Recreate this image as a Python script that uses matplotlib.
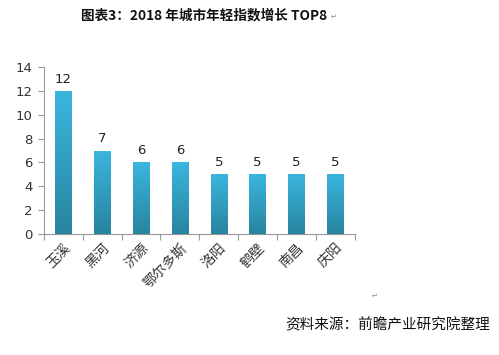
import numpy as np
import matplotlib.pyplot as plt
from matplotlib.colors import LinearSegmentedColormap

plt.rcParams['font.family'] = ['Noto Sans CJK SC', 'DejaVu Sans']

cities = ['玉溪', '黑河', '济源', '鄂尔多斯', '洛阳', '鹤壁', '南昌', '庆阳']
growth = [12, 7, 6, 6, 5, 5, 5, 5]
yticks = [0, 2, 4, 6, 8, 10, 12, 14]

fig = plt.figure(figsize=(4.99, 3.55), dpi=100)
ax = fig.add_axes([0.088, 0.341, 0.623, 0.470])

x = np.arange(len(cities))
bars = ax.bar(x, growth, width=0.42, color='#30a2c7', zorder=2)

# gradient fill, lighter at top
cmap = LinearSegmentedColormap.from_list('b', ['#27849f', '#3bb6de'])
grad = np.linspace(0, 1, 256).reshape(-1, 1)
for b in bars:
    bx, by = b.get_x(), b.get_y()
    w, h = b.get_width(), b.get_height()
    im = ax.imshow(grad, cmap=cmap, origin='lower', aspect='auto',
                   extent=[bx, bx + w, by, by + h], zorder=3)
    im.set_clip_path(b)

for xi, v in zip(x, growth):
    ax.text(xi, v + 0.45, str(v), ha='center', va='bottom', fontsize=9.5,
            color='#222222', family=['DejaVu Sans'])

ax.set_xlim(-0.5, len(cities) - 0.5)
ax.set_ylim(0, 14)
ax.set_yticks(yticks)
ax.set_yticklabels([str(t) for t in yticks], fontsize=9.5, color='#333333',
                   family=['DejaVu Sans'])
ax.set_xticks(np.arange(-0.5, len(cities), 1.0))
ax.set_xticklabels([])
ax.set_xticks(x, minor=True)
ax.set_xticklabels(cities, minor=True, rotation=45, ha='right',
                   rotation_mode='anchor', fontsize=10, color='#333333')
ax.tick_params(axis='x', which='minor', length=0, pad=5)
ax.tick_params(axis='x', which='major', length=4, color='#999999')
ax.tick_params(axis='y', length=4, color='#999999', pad=4)
for s in ['top', 'right']:
    ax.spines[s].set_visible(False)
for s in ['left', 'bottom']:
    ax.spines[s].set_color('#999999')
    ax.spines[s].set_linewidth(0.8)

fig.text(0.409, 0.955, '图表3：2018 年城市年轻指数增长 TOP8', ha='center', va='center',
         fontsize=9.8, fontweight='bold', color='#111111')
fig.text(0.662, 0.952, '↵', ha='left', va='center', fontsize=5, color='#888888',
         family=['DejaVu Sans'])
fig.text(0.745, 0.168, '↵', ha='left', va='center', fontsize=5, color='#888888',
         family=['DejaVu Sans'])
fig.text(0.982, 0.085, '资料来源：前瞻产业研究院整理', ha='right', va='center',
         fontsize=10.5, style='italic', color='#111111')

fig.savefig('out.png', dpi=100)
